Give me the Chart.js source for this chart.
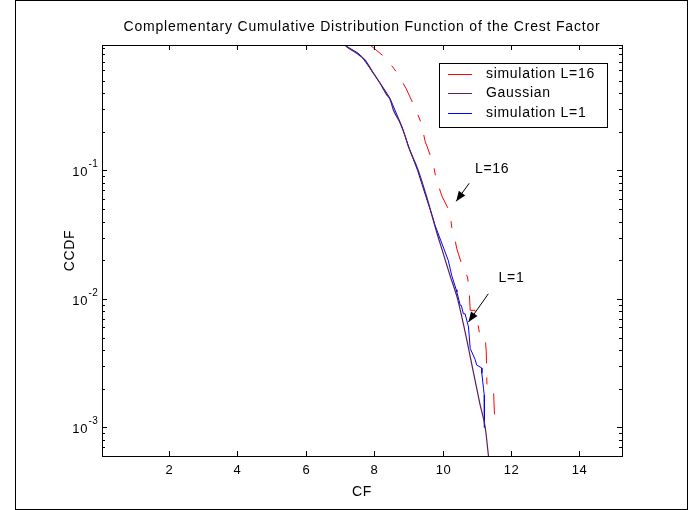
<!DOCTYPE html>
<html>
<head>
<meta charset="utf-8">
<script src="https://cdn.jsdelivr.net/npm/chart.js@4.4.1/dist/chart.umd.min.js"></script>
<style>
  html, body { margin: 0; padding: 0; background: #fff; }
</style>
</head>
<body>
<canvas id="ccdf" width="689" height="510"></canvas>
<script>
// values
const gaussCF = [7.0, 7.15, 7.20, 7.49, 7.73, 7.98, 8.17, 8.37, 8.47, 8.56, 8.76, 8.91, 9.00, 9.29, 9.54, 9.83, 9.98, 10.22, 10.44, 10.66, 10.90, 11.10, 11.25, 11.34, 11.40];
const gaussP  = [1.0, 0.944, 0.916, 0.815, 0.723, 0.570, 0.478, 0.387, 0.355, 0.296, 0.234, 0.184, 0.154, 0.100, 0.0618, 0.0330, 0.0245, 0.0152, 0.0100, 0.00555, 0.00272, 0.00150, 0.00100, 0.000615, 0.00045];

const sim1CF = [6.95, 7.13, 7.52, 7.64, 7.98, 8.37, 8.47, 8.81, 9.02, 9.27, 9.52, 9.73, 9.78, 10.17, 10.27, 10.40, 10.42, 10.52, 10.55, 10.61, 10.66, 10.76, 10.81, 10.95, 11.00, 11.15, 11.15, 11.20, 11.22, 11.22, 11.23];
const sim1P  = [1.0, 0.944, 0.82, 0.767, 0.57, 0.399, 0.36, 0.220, 0.15, 0.100, 0.062, 0.0418, 0.0375, 0.0199, 0.0152, 0.0118, 0.0113, 0.0089, 0.0089, 0.00767, 0.00767, 0.00605, 0.00412, 0.0034, 0.00306, 0.0029, 0.00264, 0.0020, 0.00179, 0.0014, 0.0010];

const sim16CF = [7.77, 7.88, 8.35, 8.67, 8.93, 9.20, 9.38, 9.49, 9.72, 9.81, 9.98, 10.22, 10.27, 10.34, 10.42, 10.56, 10.73, 10.76, 10.79, 10.81, 10.95, 11.05, 11.10, 11.25, 11.28, 11.30, 11.49, 11.52, 11.58];
const sim16P  = [1.0, 0.944, 0.745, 0.575, 0.436, 0.305, 0.233, 0.169, 0.115, 0.0867, 0.0633, 0.0471, 0.036, 0.031, 0.0245, 0.0187, 0.0148, 0.0131, 0.01035, 0.00815, 0.00815, 0.00605, 0.00507, 0.00492, 0.00388, 0.00208, 0.00202, 0.00125, 0.00099];

const xTicks = [2, 4, 6, 8, 10, 12, 14];
const yTicks = [0.001, 0.01, 0.1];
const yTickExp = ['-3', '-2', '-1'];
const seriesNames = ['simulation L=16', 'Gaussian', 'simulation L=1'];

function pts(xs, ys) {
  return xs.map((v, i) => ({ x: v, y: ys[i] }));
}

const FONT = '"Liberation Sans", Arial, sans-serif';
const RED = 'rgb(255, 0, 0)';
const PURPLE = 'rgb(90, 30, 90)';
const BLUE = 'rgb(0, 0, 255)';

// arrows / labels, positioned in data coordinates
const notes = [
  { text: 'L=16', at: [10.95, 0.102], from: [10.78, 0.0794], to: [10.40, 0.0575] },
  { text: 'L=1', at: [11.64, 0.0146], from: [11.34, 0.01096], to: [10.76, 0.00662] }
];

function setFont(ctx, size, spacing) {
  ctx.font = size + 'px ' + FONT;
  if ('letterSpacing' in ctx) ctx.letterSpacing = spacing + 'px';
}

function arrow(ctx, x1, y1, x2, y2) {
  ctx.beginPath();
  ctx.moveTo(x1, y1);
  ctx.lineTo(x2, y2);
  ctx.stroke();
  const ang = Math.atan2(y2 - y1, x2 - x1);
  const len = 10, half = 4;
  const bx = x2 - len * Math.cos(ang), by = y2 - len * Math.sin(ang);
  ctx.beginPath();
  ctx.moveTo(x2, y2);
  ctx.lineTo(bx + half * Math.sin(ang), by - half * Math.cos(ang));
  ctx.lineTo(bx - half * Math.sin(ang), by + half * Math.cos(ang));
  ctx.closePath();
  ctx.fill();
}

const matlabAxes = {
  id: 'matlabAxes',
  afterDraw(chart) {
    const { ctx, chartArea: a, scales: { x, y } } = chart;
    ctx.save();
    ctx.strokeStyle = '#000';
    ctx.fillStyle = '#000';
    ctx.lineWidth = 1;

    // figure frame
    ctx.strokeRect(15.5, 0.5, 672, 509);

    // axes box
    ctx.strokeRect(a.left + 0.5, a.top + 0.5, a.right - a.left, a.bottom - a.top);

    // x ticks, inside on bottom and top
    setFont(ctx, 13, 0.6);
    ctx.textAlign = 'center';
    ctx.textBaseline = 'middle';
    xTicks.forEach(v => {
      const px = Math.round(x.getPixelForValue(v)) + 0.5;
      ctx.beginPath();
      ctx.moveTo(px, a.bottom); ctx.lineTo(px, a.bottom - 5);
      ctx.moveTo(px, a.top); ctx.lineTo(px, a.top + 5);
      ctx.stroke();
      ctx.fillText(String(v), px, 470);
    });

    // y ticks, major and minor, inside on left and right
    for (let k = -4; k <= 0; k++) {
      for (let m = 1; m <= 9; m++) {
        const v = m * Math.pow(10, k);
        if (v < y.min || v > y.max) continue;
        const py = Math.round(y.getPixelForValue(v)) + 0.5;
        const len = m === 1 ? 5 : 3;
        ctx.beginPath();
        ctx.moveTo(a.left, py); ctx.lineTo(a.left + len, py);
        ctx.moveTo(a.right, py); ctx.lineTo(a.right - len, py);
        ctx.stroke();
      }
    }
    yTicks.forEach((v, i) => {
      const py = y.getPixelForValue(v);
      ctx.textAlign = 'right';
      setFont(ctx, 13, 0.6);
      ctx.fillText('10', 88, py + 2);
      ctx.textAlign = 'left';
      setFont(ctx, 10, 0.3);
      ctx.fillText(yTickExp[i], 88.5, py - 6);
    });

    // axis titles and title
    setFont(ctx, 14, 0.6);
    ctx.textAlign = 'center';
    ctx.fillText('CF', (a.left + a.right) / 2, 492);
    ctx.save();
    ctx.translate(70, (a.top + a.bottom) / 2);
    ctx.rotate(-Math.PI / 2);
    ctx.fillText('CCDF', 0, 0);
    ctx.restore();
    setFont(ctx, 14, 0.8);
    ctx.fillText('Complementary Cumulative Distribution Function of the Crest Factor', (a.left + a.right) / 2, 27);

    // legend
    ctx.fillStyle = '#fff';
    ctx.fillRect(439.5, 63.5, 168, 64);
    ctx.strokeRect(439.5, 63.5, 168, 64);
    const cols = [RED, PURPLE, BLUE];
    const rows = [74.5, 93.5, 113.5];
    ctx.textAlign = 'left';
    setFont(ctx, 14, 0.7);
    rows.forEach((ry, i) => {
      ctx.strokeStyle = cols[i];
      ctx.beginPath();
      ctx.moveTo(448, ry); ctx.lineTo(472, ry);
      ctx.stroke();
      ctx.fillStyle = '#000';
      ctx.fillText(seriesNames[i], 486, ry);
    });

    // annotations
    ctx.strokeStyle = '#000';
    ctx.fillStyle = '#000';
    setFont(ctx, 14, 0.7);
    notes.forEach(n => {
      ctx.fillText(n.text, x.getPixelForValue(n.at[0]), y.getPixelForValue(n.at[1]));
      arrow(ctx,
        x.getPixelForValue(n.from[0]), y.getPixelForValue(n.from[1]),
        x.getPixelForValue(n.to[0]), y.getPixelForValue(n.to[1]));
    });
    ctx.restore();
  }
};

new Chart(document.getElementById('ccdf'), {
  type: 'line',
  data: {
    datasets: [
      {
        label: seriesNames[0],
        data: pts(sim16CF, sim16P),
        borderColor: RED,
        borderWidth: 1,
        borderDash: [21, 14, 7, 14],
        pointRadius: 0,
        order: 3
      },
      {
        label: seriesNames[1],
        data: pts(gaussCF, gaussP),
        borderColor: PURPLE,
        borderWidth: 1.2,
        cubicInterpolationMode: 'monotone',
        pointRadius: 0,
        order: 1
      },
      {
        label: seriesNames[2],
        data: pts(sim1CF, sim1P),
        borderColor: BLUE,
        borderWidth: 1,
        pointRadius: 0,
        order: 2
      }
    ]
  },
  options: {
    responsive: false,
    animation: false,
    devicePixelRatio: 1,
    layout: { padding: { left: 102, top: 45, right: 67, bottom: 54 } },
    elements: { line: { tension: 0 } },
    scales: {
      x: { type: 'linear', min: 0.04, max: 15.25, display: false },
      y: { type: 'logarithmic', min: 0.000618, max: 0.945, display: false }
    },
    plugins: {
      legend: { display: false },
      tooltip: { enabled: false },
      title: { display: false }
    }
  },
  plugins: [matlabAxes]
});
</script>
</body>
</html>
